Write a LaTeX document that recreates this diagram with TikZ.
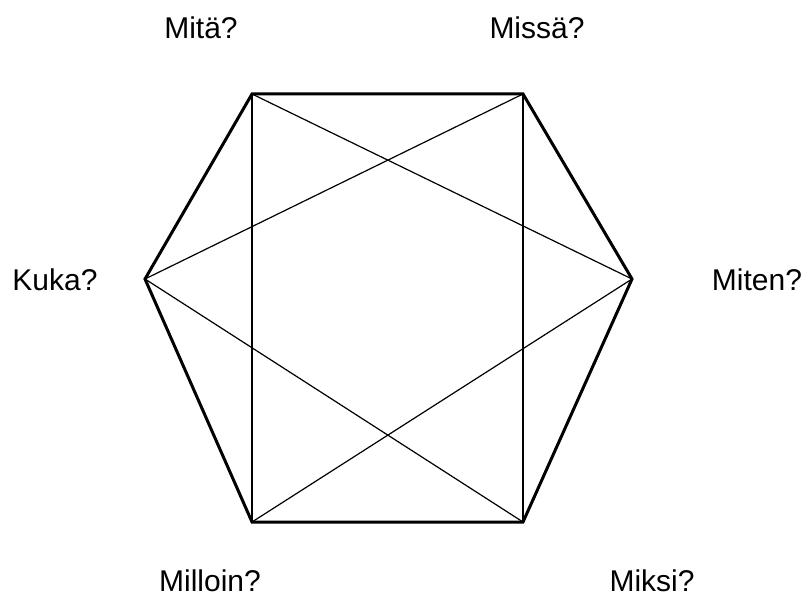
\documentclass[tikz,border=0pt]{standalone}
\usepackage{fontspec}
\setmainfont{Liberation Sans}
\usepackage{tikz}
\usetikzlibrary{positioning}

\begin{document}
\begin{tikzpicture}[x=0.5pt, y=-0.5pt,
  every node/.style={font=\fontsize{15}{18}\selectfont, inner sep=0pt},
  edge/.style={line width=1.5pt, line join=miter},
  chord/.style={line width=0.6pt}]
\useasboundingbox (0,0) rectangle (806,597);
% corners of the hexagon
\coordinate (tl) at (252,94);
\coordinate (tr) at (523,94);
\coordinate (rr) at (632,279);
\coordinate (br) at (523,522);
\coordinate (bl) at (252,522);
\coordinate (ll) at (145,279);
% questions
\node (mita) at (201,28) {Mitä?};
\node (missa) at (537,28) {Missä?};
\node (kuka) at (55,280) {Kuka?};
\node (miten) at (757,280) {Miten?};
\node (milloin) at (210,581) {Milloin?};
\node (miksi) at (652,581) {Miksi?};
% inner lines
\draw[chord] (tl)--(bl);
\draw[chord] (tr)--(br);
\draw[chord] (tl)--(rr);
\draw[chord] (tr)--(ll);
\draw[chord] (ll)--(br);
\draw[chord] (rr)--(bl);
% outline
\draw[edge] (tl)--(tr)--(rr)--(br)--(bl)--(ll)--cycle;
\end{tikzpicture}
\end{document}
